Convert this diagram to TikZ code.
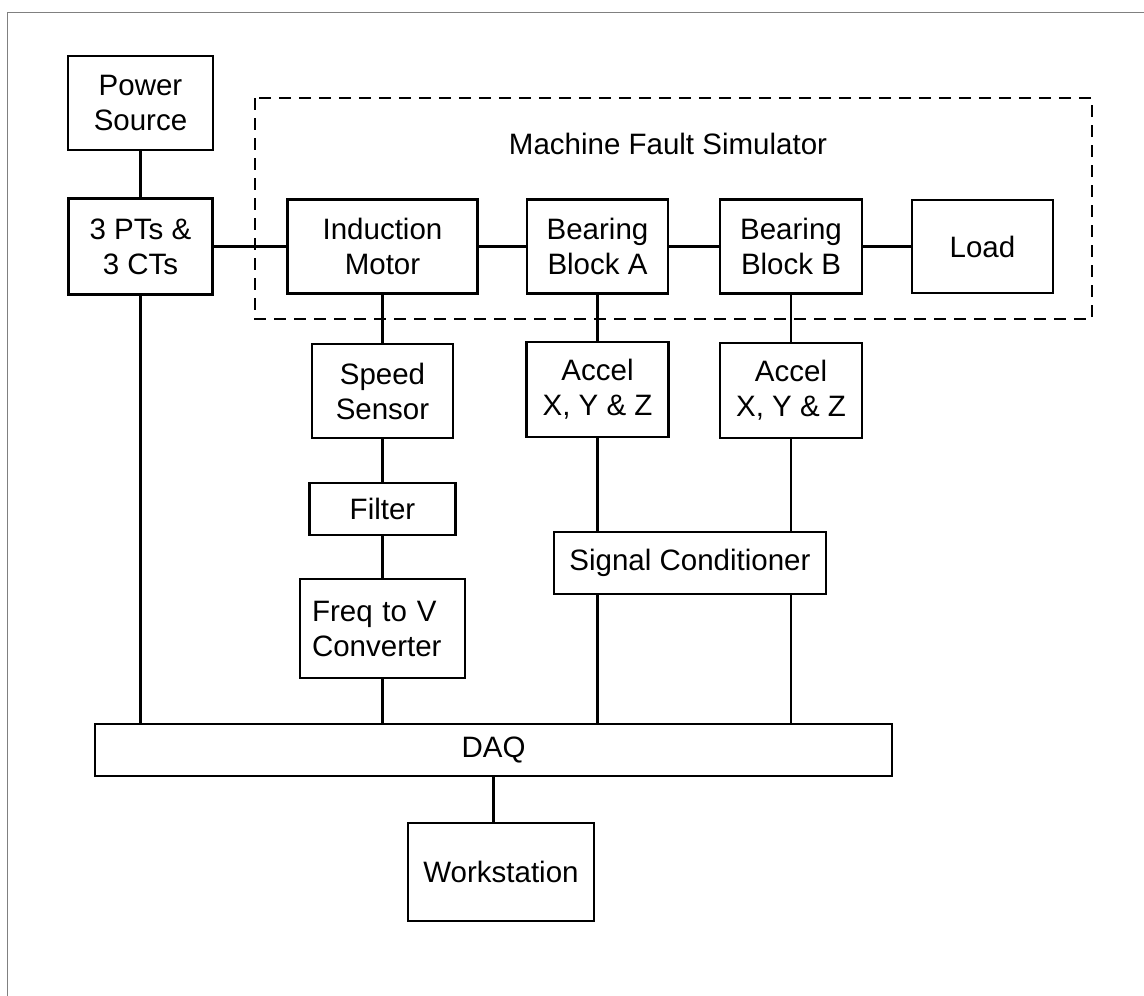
\documentclass[tikz,border=0pt]{standalone}
\usepackage{fontspec}
\setmainfont{Liberation Sans}

\begin{document}
\begin{tikzpicture}[x=1pt,y=-1pt,
    block/.style={draw, black, line width=2.3pt, inner sep=0pt, align=center,
      font=\fontsize{29.5}{35}\selectfont},
    link/.style={black, line width=2.1pt}]
       \useasboundingbox (0,0) rectangle (1144,996);
       \draw[black!50, line width=1pt] (7,996) -- (7,12) -- (1144,12);

       \draw[black, line width=2.5pt, dash pattern=on 12pt off 8pt] (255,98) rectangle (1092,319);
       \node[font=\fontsize{29.5}{35}\selectfont] (mfs) at (668,144) {Machine Fault Simulator};

       \node[block, minimum width=145pt, minimum height=94pt] (power) at (140.5,103) {Power\\Source};
       \node[block, minimum width=144pt, minimum height=96pt] (pts) at (140.5,246.5) {3 PTs \&\\3 CTs};
       \node[block, minimum width=190pt, minimum height=94pt] (motor) at (382.5,246.5) {Induction\\Motor};
       \node[block, minimum width=141pt, minimum height=94pt] (bearA) at (597.5,246.5) {Bearing\\Block A};
       \node[block, minimum width=142pt, minimum height=94pt] (bearB) at (791,246.5) {Bearing\\Block B};
       \node[block, minimum width=141pt, minimum height=93pt] (load) at (982.5,246.5) {Load};

       \node[block, minimum width=141pt, minimum height=94pt] (speed) at (382.5,391) {Speed\\Sensor};
       \node[block, minimum width=142pt, minimum height=95pt] (accA) at (597.5,389.5) {Accel\\X, Y \& Z};
       \node[block, minimum width=142pt, minimum height=95pt] (accB) at (791,390.5) {Accel\\X, Y \& Z};
       \node[block, minimum width=146pt, minimum height=52pt] (filter) at (382.5,509) {Filter};
       \node[block, minimum width=165pt, minimum height=99pt, text width=141pt, align=left] (freq) at (382.5,628.5) {Freq to V\\Converter};
       \node[block, minimum width=272pt, minimum height=62pt] (sigcond) at (690,563) {Signal Conditioner};
       \node[block, minimum width=797pt, minimum height=52pt] (daq) at (493.5,750) {DAQ};
       \node[block, minimum width=186pt, minimum height=98pt] (work) at (501,872) {Workstation};

       \draw[link] (power) -- (pts);
       \draw[link] (pts) -- (motor) -- (bearA) -- (bearB) -- (load);
       \draw[link] (pts) -- (pts |- daq.north);
       \draw[link] (motor) -- (speed) -- (filter) -- (freq);
       \draw[link] (freq) -- (freq |- daq.north);
       \draw[link] (bearA) -- (accA);
       \draw[link] (accA) -- (accA |- sigcond.north);
       \draw[link] (accA |- sigcond.south) -- (accA |- daq.north);
       \draw[link] (bearB) -- (accB);
       \draw[link] (accB) -- (accB |- sigcond.north);
       \draw[link] (accB |- sigcond.south) -- (accB |- daq.north);
       \draw[link] (daq.south) -- (daq.south |- work.north);
      \end{tikzpicture}
\end{document}
